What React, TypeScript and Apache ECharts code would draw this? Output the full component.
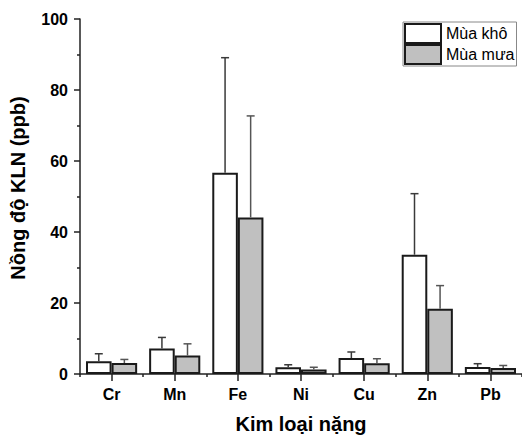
import React, { useEffect, useRef } from "react";
import * as echarts from "echarts";

const categories = ["Cr", "Mn", "Fe", "Ni", "Cu", "Zn", "Pb"];
const dryMeans = [3.6, 7.2, 56.7, 1.9, 4.5, 33.6, 2.0];
const dryErrors = [2.1, 3.1, 32.4, 0.7, 1.7, 17.2, 0.9];
const wetMeans = [3.1, 5.2, 44.1, 1.3, 3.0, 18.4, 1.7];
const wetErrors = [1.0, 3.3, 28.6, 0.6, 1.3, 6.5, 0.7];
const seriesNames = ["Mùa khô", "Mùa mưa"];
const xTitle = "Kim loại nặng";
const yTitle = "Nồng độ KLN (ppb)";

const FONT = "Liberation Sans, Arial, sans-serif";
const CAT_GAP = 0.19;

function makeErr(sign: number, color: string) {
  return (params: any, api: any) => {
    const i = api.value(0);
    const mean = api.value(1);
    const up = api.value(2);
    const c = api.coord([i, mean]);
    const t = api.coord([i, mean + up]);
    const band = api.size([1, 0])[0];
    const x = c[0] + (sign * band * (1 - CAT_GAP)) / 4;
    return {
      type: "group",
      children: [
        { type: "line", shape: { x1: x, y1: c[1], x2: x, y2: t[1] }, style: { stroke: color, lineWidth: 1.5 } },
        { type: "line", shape: { x1: x - 4, y1: t[1], x2: x + 4, y2: t[1] }, style: { stroke: color, lineWidth: 1.5 } },
      ],
    };
  };
}

export default function App() {
  const ref = useRef<HTMLDivElement>(null);
  useEffect(() => {
    document.body.style.margin = "0";
    const chart = echarts.init(ref.current!, null, { renderer: "svg" });
    const axisLine = { show: true, lineStyle: { color: "#222", width: 1.5 } };
    chart.setOption({
      animation: false,
      backgroundColor: "#fff",
      textStyle: { fontFamily: FONT },
      grid: { left: 80, top: 19, width: 444, height: 359, containLabel: false },
      legend: {
        data: seriesNames,
        orient: "vertical",
        left: 403,
        top: 22,
        itemWidth: 36,
        itemHeight: 19,
        itemGap: 0,
        icon: "rect",
        padding: [1, 2, 1, 1],
        borderColor: "#888",
        borderWidth: 1,
        textStyle: { fontSize: 16, fontFamily: FONT, color: "#000" },
      },
      xAxis: [
        {
          type: "category",
          data: categories,
          position: "bottom",
          axisLine,
          axisTick: { show: true, alignWithLabel: true, length: 7, lineStyle: { color: "#222", width: 1.5 } },
          axisLabel: { fontSize: 16, fontWeight: "bold", color: "#000", fontFamily: FONT, margin: 12 },
          name: xTitle,
          nameLocation: "middle",
          nameGap: 40,
          nameTextStyle: { fontSize: 20, fontWeight: "bold", color: "#000", fontFamily: FONT },
        },
        {
          type: "category",
          data: categories,
          position: "bottom",
          axisLine: { show: false },
          axisTick: { show: true, length: 3, lineStyle: { color: "#222", width: 1.5 } },
          axisLabel: { show: false },
        },
      ],
      yAxis: {
        type: "value",
        min: 0,
        max: 100,
        interval: 20,
        axisLine,
        axisTick: { show: true, length: 6, lineStyle: { color: "#222", width: 1.5 } },
        minorTick: { show: true, splitNumber: 2, length: 3, lineStyle: { color: "#222", width: 1.5 } },
        splitLine: { show: false },
        axisLabel: { fontSize: 16, fontWeight: "bold", color: "#000", fontFamily: FONT, margin: 12 },
      },
      graphic: [
        {
          type: "text",
          x: 18,
          y: 188,
          rotation: Math.PI / 2,
          style: {
            text: yTitle,
            fontSize: 20,
            fontWeight: "bold",
            fontFamily: FONT,
            fill: "#000",
            textAlign: "center",
            textVerticalAlign: "middle",
          },
        },
      ],
      series: [
        {
          name: seriesNames[0],
          type: "bar",
          data: dryMeans,
          barGap: "0%",
          barCategoryGap: CAT_GAP * 100 + "%",
          itemStyle: { color: "#ffffff", borderColor: "#1a1a1a", borderWidth: 2 },
        },
        {
          name: seriesNames[1],
          type: "bar",
          data: wetMeans,
          barGap: "0%",
          barCategoryGap: CAT_GAP * 100 + "%",
          itemStyle: { color: "#c0c0c0", borderColor: "#1a1a1a", borderWidth: 2 },
        },
        {
          type: "custom",
          renderItem: makeErr(-1, "#3a3a3a"),
          data: categories.map((_, i) => [i, dryMeans[i], dryErrors[i]]),
          z: 3,
        },
        {
          type: "custom",
          renderItem: makeErr(1, "#555555"),
          data: categories.map((_, i) => [i, wetMeans[i], wetErrors[i]]),
          z: 3,
        },
      ],
    });
    return () => chart.dispose();
  }, []);
  return <div ref={ref} style={{ width: 522, height: 439 }} />;
}
